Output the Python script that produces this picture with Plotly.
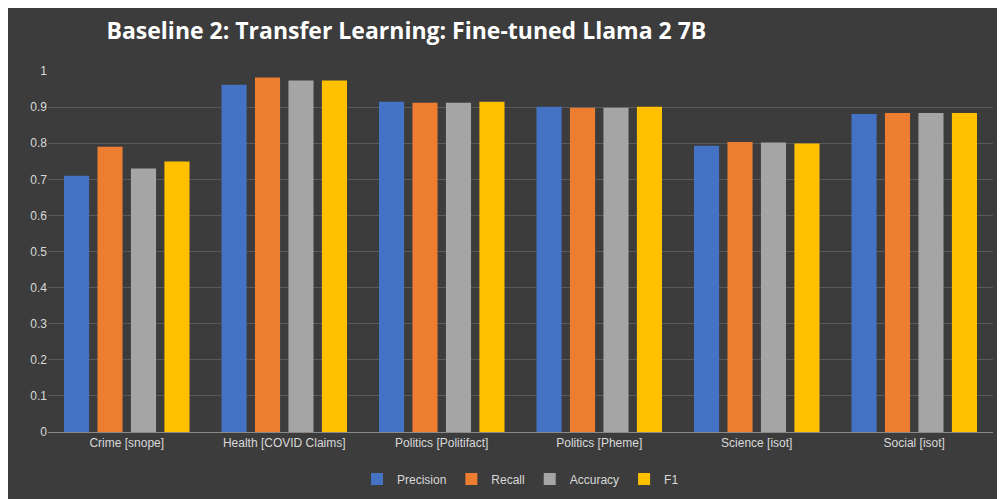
import plotly.graph_objects as go

categories = ["Crime [snope]", "Health [COVID Claims]", "Politics [Politifact]",
              "Politics [Pheme]", "Science [isot]", "Social [isot]"]
precision = [0.71, 0.962, 0.915, 0.901, 0.793, 0.881]
recall = [0.79, 0.982, 0.912, 0.898, 0.803, 0.884]
accuracy = [0.73, 0.974, 0.912, 0.898, 0.802, 0.884]
f1 = [0.749, 0.974, 0.915, 0.901, 0.799, 0.884]
series = [("Precision", precision, "#4472C4"), ("Recall", recall, "#ED7D31"),
          ("Accuracy", accuracy, "#A5A5A5"), ("F1", f1, "#FFC000")]

fig = go.Figure()
for name, vals, col in series:
    fig.add_bar(x=categories, y=vals, name=name, marker_color=col, marker_line_width=0)

fig.update_layout(
    width=1005, height=499,
    paper_bgcolor="#3c3c3c", plot_bgcolor="rgba(0,0,0,0)",
    margin=dict(l=40, r=20, t=63, b=75),
    bargap=0.15, bargroupgap=0.25,
    title=dict(text="<b>Baseline 2: Transfer Learning: Fine-tuned Llama 2 7B</b>",
               x=0.098, xanchor="left", y=0.955, yanchor="middle",
               font=dict(family="Open Sans", size=23, color="white")),
    font=dict(family="Liberation Sans", color="#d9d9d9", size=12),
    legend=dict(orientation="h", x=0.5, xanchor="center", y=-0.13, yanchor="middle",
                font=dict(size=12, color="#d9d9d9")),
    yaxis=dict(range=[0, 1.0], dtick=0.1, gridcolor="#5a5a5a", zeroline=False,
               tickfont=dict(size=12), showline=False),
    xaxis=dict(showline=True, linecolor="#8a8a8a", tickfont=dict(size=12)),
)
fig.write_html("out.html")
